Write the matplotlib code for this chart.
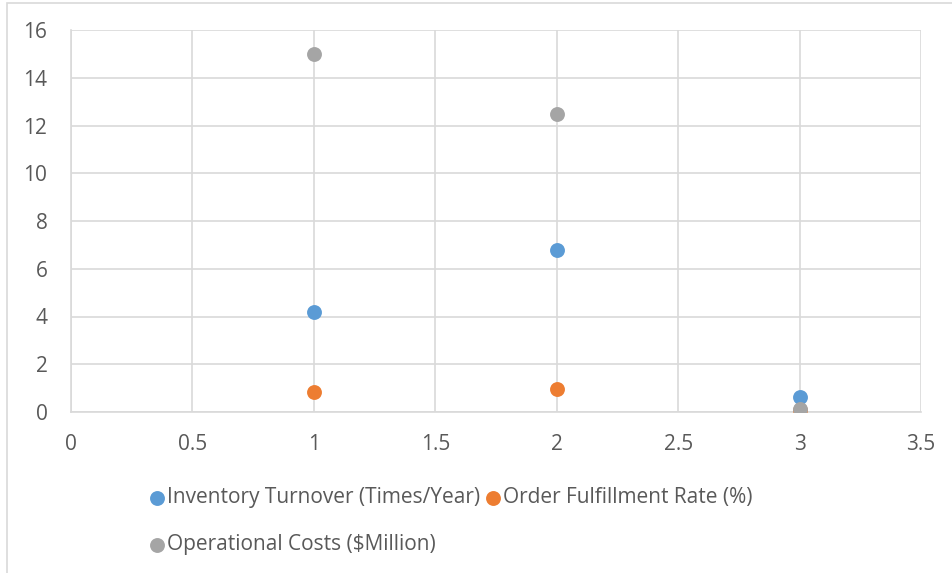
import matplotlib.pyplot as plt
from matplotlib.patches import Rectangle

x_vals = [1, 2, 3]
inventory_turnover = [4.2, 6.8, 0.62]
fulfillment_rate = [0.85, 0.95, 0.08]
operational_costs = [15.0, 12.5, 0.13]

labels = ['Inventory Turnover (Times/Year)', 'Order Fulfillment Rate (%)', 'Operational Costs ($Million)']
colors = ['#5B9BD5', '#ED7D31', '#A5A5A5']

plt.rcParams['font.family'] = ['Open Sans', 'DejaVu Sans']

fig = plt.figure(figsize=(9.52, 5.73), dpi=100)
# chart frame border (left and top edges visible)
fig.patches.append(Rectangle((7 / 952, -0.1), 1.2, 1.1 - 3 / 573,
                             transform=fig.transFigure, fill=False,
                             edgecolor='#d9d9d9', linewidth=1.2))

ax = fig.add_axes([71 / 952, 1 - 412 / 573, 850 / 952, 382 / 573])

series = [inventory_turnover, fulfillment_rate, operational_costs]
handles = []
for ys, lab, c in zip(series, labels, colors):
    h = ax.scatter(x_vals, ys, s=115, color=c, label=lab, zorder=3, linewidths=0)
    handles.append(h)

ax.set_xlim(0, 3.5)
ax.set_ylim(0, 16)
ax.set_xticks([0, 0.5, 1, 1.5, 2, 2.5, 3, 3.5])
ax.set_xticklabels(['0', '0.5', '1', '1.5', '2', '2.5', '3', '3.5'])
ax.set_yticks(range(0, 17, 2))
ax.grid(True, color='#d9d9d9', linewidth=1.2)
ax.set_axisbelow(True)
for sp in ['top', 'right']:
    ax.spines[sp].set_visible(False)
ax.spines['left'].set_color('#d9d9d9')
ax.spines['bottom'].set_color('#d9d9d9')
ax.spines['left'].set_linewidth(1.2)
ax.spines['bottom'].set_linewidth(1.2)
ax.tick_params(length=0, labelsize=15, labelcolor='#595959')
ax.tick_params(axis='x', pad=16)
ax.tick_params(axis='y', pad=17)

leg = fig.legend([handles[0], handles[2], handles[1]],
                 [labels[0], labels[2], labels[1]],
                 ncol=2, loc='upper left', bbox_to_anchor=(138 / 952, 1 - 479 / 573),
                 frameon=False, fontsize=15, handletextpad=0.0, columnspacing=0.1,
                 labelspacing=1.25, handlelength=1.0, markerscale=1.0, borderaxespad=0)
for t in leg.get_texts():
    t.set_color('#595959')

fig.savefig('out.png', dpi=100)
